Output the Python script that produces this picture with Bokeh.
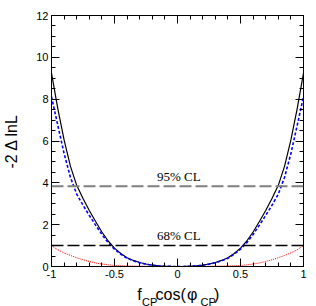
from bokeh.plotting import figure
from bokeh.layouts import column
from bokeh.models import Range1d, LinearAxis, FixedTicker, Label, Span
from bokeh.core.properties import value
from bokeh.embed import file_html
from bokeh.resources import INLINE

# ---- data ----
x_vals = [-1.0, -0.95, -0.9, -0.85, -0.8, -0.75, -0.7, -0.65, -0.6, -0.55, -0.5,
          -0.45, -0.4, -0.35, -0.3, -0.25, -0.2, -0.15, -0.1, -0.05, 0.0,
          0.05, 0.1, 0.15, 0.2, 0.25, 0.3, 0.35, 0.4, 0.45, 0.5,
          0.55, 0.6, 0.65, 0.7, 0.75, 0.8, 0.85, 0.9, 0.95, 1.0]
# total (black solid)
nll_total = [9.25, 7.55, 6.05, 4.8, 3.88, 3.25, 2.68, 2.15, 1.65, 1.22, 0.88,
             0.62, 0.42, 0.29, 0.19, 0.12, 0.065, 0.03, 0.012, 0.003, 0.0,
             0.003, 0.012, 0.03, 0.065, 0.12, 0.19, 0.29, 0.42, 0.62, 0.88,
             1.22, 1.65, 2.15, 2.68, 3.25, 3.88, 4.8, 6.05, 7.55, 9.25]
# blue dashed
nll_blue = [8.12, 6.75, 5.4, 4.27, 3.46, 2.93, 2.44, 1.98, 1.53, 1.14, 0.83,
            0.585, 0.395, 0.272, 0.178, 0.112, 0.061, 0.028, 0.011, 0.003, 0.0,
            0.003, 0.011, 0.028, 0.061, 0.112, 0.178, 0.272, 0.395, 0.585, 0.83,
            1.14, 1.53, 1.98, 2.44, 2.93, 3.46, 4.27, 5.4, 6.75, 8.12]
# red dotted
nll_red = [1.0, 0.8, 0.65, 0.53, 0.42, 0.32, 0.24, 0.17, 0.12, 0.08, 0.05,
           0.035, 0.025, 0.018, 0.012, 0.008, 0.004, 0.002, 0.001, 0.0, 0.0,
           0.0, 0.001, 0.002, 0.004, 0.008, 0.012, 0.018, 0.025, 0.035, 0.05,
           0.08, 0.12, 0.17, 0.24, 0.32, 0.42, 0.53, 0.65, 0.8, 1.0]

x_major = [-1.0, -0.5, 0.0, 0.5, 1.0]
x_major_labels = ["-1", "-0.5", "0", "0.5", "1"]
y_major = [0, 2, 4, 6, 8, 10, 12]
cl_levels = [3.84, 1.0]
cl_texts = ["95% CL", "68% CL"]
cl_colors = ["#808080", "black"]
cl_widths = [2.0, 1.5]
y_title = "-2 \u0394 lnL"
x_title_main = ["f", "cos(", "\u03c6", ")"]
x_title_sub = ["CP", "CP"]

x_minor = [round(-1.0 + 0.1 * i, 2) for i in range(21)]
y_minor = [0.5 * i for i in range(25)]

SANS = "Liberation Sans"
TOP_H = 284

p = figure(width=316, height=TOP_H,
           x_range=Range1d(-1, 1), y_range=Range1d(0, 12),
           output_backend="svg", toolbar_location=None,
           min_border_left=51, min_border_right=13,
           min_border_top=15, min_border_bottom=18)
p.xgrid.visible = False
p.ygrid.visible = False
p.outline_line_color = "black"
p.outline_line_width = 1
p.background_fill_color = "white"
p.border_fill_color = "white"


def style_axis(ax, ticks, minor, show_labels, overrides=None):
    ax.ticker = FixedTicker(ticks=ticks, minor_ticks=minor)
    ax.major_tick_in = 8
    ax.major_tick_out = 0
    ax.minor_tick_in = 4
    ax.minor_tick_out = 0
    ax.axis_line_color = "black"
    ax.major_tick_line_color = "black"
    ax.minor_tick_line_color = "black"
    if show_labels:
        ax.major_label_text_font = SANS
        ax.major_label_text_font_size = "11px"
        ax.major_label_text_color = "black"
        ax.major_label_standoff = 3
        if overrides:
            ax.major_label_overrides = overrides
    else:
        ax.major_label_text_font_size = "0px"
        ax.major_label_standoff = 0


xover = {t: s for t, s in zip(x_major, x_major_labels)}
style_axis(p.xaxis[0], x_major, x_minor, True, xover)
style_axis(p.yaxis[0], y_major, y_minor, True)
p.yaxis[0].axis_label = y_title
p.yaxis[0].axis_label_text_font = SANS
p.yaxis[0].axis_label_text_font_style = "normal"
p.yaxis[0].axis_label_text_font_size = "16px"
p.yaxis[0].axis_label_text_color = "black"
p.yaxis[0].axis_label_standoff = 13

top = LinearAxis()
right = LinearAxis()
style_axis(top, x_major, x_minor, False)
style_axis(right, y_major, y_minor, False)
p.add_layout(top, "above")
p.add_layout(right, "right")

# CL lines and labels
for lev, txt, col, w in zip(cl_levels, cl_texts, cl_colors, cl_widths):
    p.add_layout(Span(location=lev, dimension="width", line_color=col,
                      line_width=w, line_dash="12 4"))
    p.add_layout(Label(x=0.01, y=lev, text=txt, text_align="center",
                       text_baseline="alphabetic", y_offset=10,
                       text_font="Liberation Serif", text_font_size="13px",
                       text_color="black"))

# curves
p.line(x_vals, nll_red, line_color="red", line_width=1, line_dash="1 1")
p.line(x_vals, nll_total, line_color="black", line_width=1.2)
p.line(x_vals, nll_blue, line_color="blue", line_width=1.6, line_dash="3 2")

# ---- x-axis title strip (with subscripts) ----
BOT_H = 306 - TOP_H
q = figure(width=316, height=BOT_H, x_range=p.x_range,
           y_range=Range1d(0, BOT_H), output_backend="svg",
           toolbar_location=None, x_axis_type=None, y_axis_type=None,
           min_border_left=51, min_border_right=13,
           min_border_top=0, min_border_bottom=0)
q.outline_line_color = None
q.background_fill_color = "white"
q.border_fill_color = "white"


def px2x(px):
    return (px - 177.0) / 126.0


main_x = [px2x(v) for v in (136.7, 155.0, 186.5, 213.5)]
sub_x = [px2x(v) for v in (141.5, 200.0)]
q.text(x=main_x, y=[BOT_H - 10] * 4, text=x_title_main,
       text_font=value(SANS), text_font_size="16px", text_color="black",
       text_align="left", text_baseline="alphabetic")
q.text(x=sub_x, y=[BOT_H - 17] * 2, text=x_title_sub,
       text_font=value(SANS), text_font_size="11px", text_color="black",
       text_align="left", text_baseline="alphabetic")

layout = column(p, q, spacing=0)
open("out.html", "w").write(file_html(layout, INLINE))
